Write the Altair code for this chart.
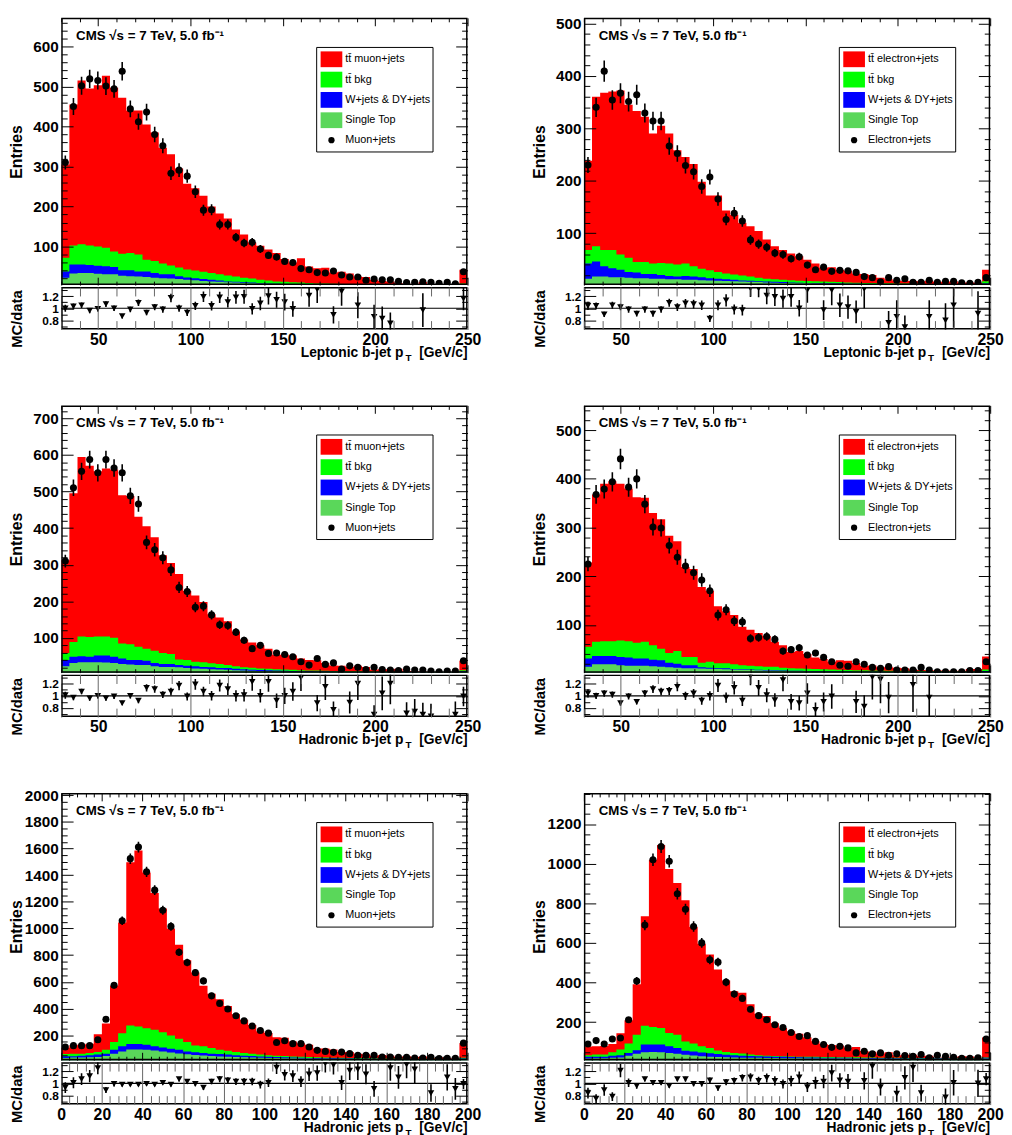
import math
import altair as alt
import pandas as pd

# ---------------- data ----------------
# Panel 1: muon+jets, leptonic b-jet pT, 50 bins 30-250
data1 = [310, 450, 502, 519, 515, 501, 494, 538, 444, 412, 436, 380, 352, 283, 291, 276, 237, 191, 192, 155,
         155, 123, 109, 111, 94, 78, 74, 63, 60, 45, 42, 35, 34, 39, 29, 24, 24, 16, 19, 17,
         17, 13, 10, 11, 12, 11, 8, 11, 7, 37]
ratio1 = [1.0, 1.03, 1.05, 0.96, 0.99, 1.07, 1.0, 0.87, 0.98, 1.09, 0.93, 1.02, 0.98, 1.17, 1.0, 0.93, 1.04, 1.19, 1.04, 1.18,
          1.10, 1.18, 1.19, 0.99, 1.08, 1.2, 1.14, 1.10, 0.99, None, 1.21, 1.31, None, 0.89, 1.28, None, 1.05, None, 0.86, 0.83,
          0.75, None, None, None, 0.97, None, None, None, None, 1.16]
total1 = [305, 455, 515, 495, 503, 527, 497, 472, 440, 440, 405, 385, 347, 331, 295, 257, 246, 227, 200, 183,
          170, 143, 130, 110, 102, 93, 84, 69, 60, 71, 50, 46, 47, 35, 37, 33, 25, 24, 17, 14,
          13, 9, 6, 7, 11.6, 6, 5, 6, 4.5, 42]
green1 = [72, 103, 106, 103, 100, 97, 88, 82, 84, 80, 67, 64, 58, 53, 48, 43, 40, 37, 34, 31,
          28, 25, 22, 20, 17, 15, 13, 12, 11, 10, 9, 8, 7.5, 7, 6.5, 6, 5.5, 5, 5, 4.8,
          4.6, 4.5, 4.4, 4.3, 4.2, 4.2, 4.1, 4.1, 4.0, 8]
blue1 = [38, 55, 55, 54, 52, 51, 49, 41, 41, 38, 38, 34, 31, 31, 26, 23, 21, 19, 17, 15,
         13, 12, 11, 10, 9, 8, 7, 6.5, 6, 5.5, 5.2, 5, 4.8, 4.6, 4.5, 4.4, 4.3, 4.2, 4.1, 4.1,
         4, 4, 4, 3.9, 3.9, 3.9, 3.9, 3.9, 3.9, 6]
st1 = [22, 33, 34, 34, 32, 31, 31, 27, 26, 25, 24, 22, 21, 20, 19, 17, 16, 14, 13, 12,
       11, 10, 9, 8.5, 8, 7, 6.5, 6, 5.5, 5, 4.8, 4.6, 4.5, 4.4, 4.3, 4.2, 4.1, 4, 4, 3.9,
       3.9, 3.9, 3.9, 3.9, 3.8, 3.8, 3.8, 3.8, 3.8, 5]

# Panel 2: electron+jets, leptonic b-jet pT
data2 = [230, 340, 409, 354, 367, 351, 364, 329, 314, 314, 266, 252, 229, 217, 189, 207, 165, 126, 138, 123,
         87, 79, 73, 62, 59, 51, 55, 39, 30, 35, 27, 29, 28, 25, 17, 15, 7, 15, 10, 13,
         6, 6, 10, 6, 8, 8, 5, 4, 6, 15]
ratio2 = [1.04, 1.04, 0.9, 1.05, 1.02, 0.98, 0.91, 0.98, 0.91, 0.98, 1.09, 1.02, 1.08, 1.07, 1.05, 0.83, 1.05, 1.13, 0.98, 0.97,
          1.33, 1.33, 1.21, 1.19, 1.16, 1.19, 1.0, 1.3, None, 0.97, 1.3, 1.05, 1.02, 0.94, 1.32, None, None, 0.76, 0.86, 0.69,
          None, None, 0.86, None, 0.8, 1.05, None, None, 0.91, None]
total2 = [238, 360, 368, 370, 372, 345, 333, 322, 290, 305, 290, 258, 245, 232, 198, 172, 172, 143, 135, 120,
          113, 104, 88, 75, 68, 61, 56, 49, 42, 34, 35, 30, 28, 23, 22, 20, 15, 12, 9, 9,
          8.5, 8, 9, 7, 7, 8, 6, 6, 5.5, 30]
green2 = [68, 75, 68, 68, 59, 53, 45, 45, 42, 43, 42, 40, 42, 37, 32, 29, 26, 23, 21, 19,
          17, 15, 13, 12, 11, 10, 9, 8.5, 8, 7.5, 7, 6.5, 6, 5.5, 5, 5, 4.5, 4.5, 4, 4,
          3.5, 3.5, 3, 3, 3, 3, 3, 3, 3, 8]
blue2 = [42, 46, 37, 33, 30, 26, 25, 22, 22, 20, 18, 17, 18, 17, 16, 14, 12.7, 12, 11, 9.5,
         9, 8, 7.5, 7, 6.5, 6, 5.5, 5, 4.7, 4.4, 4.1, 3.8, 3.5, 3.3, 3.1, 2.9, 2.7, 2.5, 2.4, 2.3,
         2.2, 2.1, 2, 2, 2, 2, 2, 2, 2, 4]
st2 = [13, 17, 17, 16, 16, 15, 14, 14, 13, 13, 12, 12, 11, 11, 10, 9.5, 9, 8.5, 8, 7.5,
       7, 6.5, 6, 5.5, 5, 4.7, 4.4, 4.1, 3.8, 3.5, 3.3, 3.1, 2.9, 2.7, 2.5, 2.3, 2.2, 2.1, 2, 2,
       1.9, 1.8, 1.8, 1.7, 1.7, 1.6, 1.6, 1.5, 1.5, 3]

# Panel 3: muon+jets, hadronic b-jet pT
data3 = [310, 510, 555, 587, 551, 587, 564, 551, 488, 466, 361, 341, 319, 286, 238, 227, 184, 187, 163, 136,
         134, 116, 94, 71, 80, 58, 59, 55, 49, 35, 26, 44, 28, 32, 15, 24, 20, 14, 20, 14,
         12.6, 10.8, 15, 12.6, 12.6, 10, 8, 10, 10, 38]
ratio3 = [1.01, 0.97, 1.07, 0.96, 1.0, 0.96, 0.99, 0.88, 1.0, 0.92, 1.13, 1.11, 1.02, 1.07, 1.17, 0.99, 1.19, 1.07, 1.0, 1.17,
          1.11, 1.0, 1.01, 1.23, 1.0, 1.23, 0.92, 1.0, 1.07, 1.3, None, 0.88, 1.15, 0.77, None, 0.89, 1.2, None, 0.69, 1.04,
          1.2, None, 0.71, 0.74, 0.69, 0.66, None, None, 0.69, 0.99]
total3 = [312, 495, 594, 570, 555, 563, 560, 490, 488, 431, 405, 375, 326, 305, 275, 228, 216, 198, 165, 156,
          146, 118, 96, 88, 80, 71, 54, 55, 52, 44, 40, 39, 32, 25, 24, 21, 24, 21, 14, 14.5,
          15, 16, 10.6, 9.3, 8.7, 6.6, 6.5, 6, 6.9, 37.6]
green3 = [59, 89, 104, 103, 104, 104, 101, 85, 83, 76, 71, 65, 59, 56, 41, 40, 35, 34, 31, 29,
          26, 23, 20, 19, 17, 16, 15, 14, 13, 12, 11.5, 11, 10.5, 10, 9.5, 9, 9, 8.5, 8.5, 8,
          8, 8, 7.5, 7.5, 7, 6.2, 6.3, 5.9, 6.5, 12]
blue3 = [40, 49, 50, 49, 52, 52, 49, 44, 40, 40, 38, 32, 29, 29, 26, 24, 23, 21, 20, 18,
         18, 16, 14.5, 13, 12.5, 12, 11, 10.5, 10, 9.5, 9, 8.5, 8.5, 8, 8, 7.5, 7.5, 7, 7, 7,
         6.8, 6.6, 6.5, 6.4, 6.3, 6, 6, 5.8, 6, 9]
st3 = [23, 32, 34, 34, 34, 33, 32, 29, 28, 26, 26, 23, 21, 21, 20, 18, 17, 16, 15, 14,
       13, 12, 11, 10.5, 10, 9.5, 9, 8.5, 8, 8, 7.5, 7.5, 7, 7, 7, 6.8, 6.6, 6.5, 6.4, 6.3,
       6.2, 6.1, 6, 6, 6, 5.9, 5.8, 5.7, 5.7, 7]

# Panel 4: electron+jets, hadronic b-jet pT
data4 = [225, 368, 379, 394, 441, 383, 400, 348, 301, 299, 263, 239, 221, 207, 192, 170, 120, 131, 108, 106,
         72, 74, 76, 70, 46, 49, 53, 38, 42, 33, 24, 17, 15, 24, 19, 12.5, 10.5, 14, 7, 7,
         7, 12.5, 7, 3.7, 3.7, 3.7, 3.7, 5.8, 5.8, 24]
ratio4 = [1.04, 1.0, 1.04, 1.02, 0.88, 0.99, 0.9, 1.04, 1.11, 1.07, 1.08, 1.15, 1.0, 1.04, 0.92, 1.0, 1.17, 0.97, 1.13, 0.92,
          1.33, 1.13, 1.01, 0.93, 1.26, 0.9, 0.88, 1.04, 0.77, 0.9, 0.99, None, None, 0.9, 0.82, 1.31, 1.27, 0.97, None, None,
          1.18, None, 0.97, None, None, None, None, None, None, None]
total4 = [228, 368, 390, 395, 390, 380, 362, 361, 330, 317, 283, 272, 219, 215, 178, 170, 138, 128, 120, 96,
          90, 83, 77, 65, 58, 44, 46, 40, 33, 30, 24, 27, 26, 21.6, 16, 16.4, 13, 13.6, 12, 11,
          8.3, 7, 6.8, 6, 6, 5.5, 5.5, 9, 9, 35]
green4 = [55, 65, 66, 66, 68, 66, 63, 65, 58, 51, 42, 46, 34, 34, 22, 24, 21, 21, 19, 17,
          16, 15, 14, 14, 12, 11, 10, 9.5, 9, 8.5, 8, 7.5, 7, 6.8, 6.5, 6.2, 6, 5.8, 5.6, 5.4,
          5.2, 5, 4.8, 4.6, 4.5, 4.4, 4.3, 4.2, 4.1, 8]
blue4 = [31, 36, 36, 36, 34, 33, 31, 31, 28, 27, 22, 20, 17, 17, 13, 12, 10.5, 10.5, 9, 8.5,
         8, 7.5, 7, 6.5, 6, 5.7, 5.4, 5.1, 4.8, 4.6, 4.4, 4.2, 4, 3.8, 3.6, 3.5, 3.4, 3.3, 3.2, 3.1,
         3, 3, 2.9, 2.9, 2.8, 2.8, 2.7, 2.7, 2.6, 5]
st4 = [14, 19, 19, 19, 17, 16, 16, 16, 15, 14, 13, 12, 11, 10.5, 10, 9.5, 9, 8.5, 8, 7.5,
       7, 6.5, 6, 5.5, 5, 4.7, 4.4, 4.1, 3.8, 3.6, 3.4, 3.2, 3, 2.9, 2.8, 2.7, 2.6, 2.5, 2.4, 2.3,
       2.2, 2.2, 2.1, 2.1, 2, 2, 2, 2, 2, 3]

# Panel 5: muon+jets, hadronic jets pT, 50 bins 0-200
data5 = [111, 121, 121, 121, 165, 319, 574, 1058, 1524, 1611, 1425, 1288, 1137, 1016, 822, 745, 669, 607, 495, 438,
         396, 346, 307, 269, 235, 215, 145, 158, 136, 136, 111, 86, 78, 71, 73, 61, 49, 49, 49, 36,
         36, 34, 34, 29, 29, 34, 24, 26, 26, 140]
ratio5 = [0.93, 1.01, 1.07, 1.12, 1.25, 0.89, 0.99, 0.98, 0.98, 0.98, 0.99, 0.98, 1.01, 0.98, 1.07, 1.03, 0.99, 0.93, 1.03, 1.07,
          1.05, 1.03, 1.03, 1.03, 0.98, 1.01, 1.26, 1.14, 1.12, 1.03, 1.15, 1.17, 1.33, 1.3, 1.01, 1.21, 1.23, 1.15, 0.91, None,
          1.25, 1.1, 1.31, 1.23, None, 0.84, None, 1.1, 0.91, 0.99]
total5 = [105, 124, 129, 136, 206, 288, 570, 1045, 1497, 1585, 1420, 1266, 1150, 1000, 879, 762, 670, 570, 510, 469,
          418, 356, 316, 277, 230, 217, 185, 180, 152, 140, 128, 100, 100, 92, 74, 74, 60, 56, 45, 52,
          45, 37, 44.5, 36, 40, 28.6, 35, 29, 24, 140]
green5 = [59, 61, 61, 66, 73, 91, 148, 215, 272, 264, 252, 240, 222, 198, 173, 148, 123, 116, 103, 91,
          83, 73, 66, 60, 55, 50, 46, 43, 40, 38, 36, 34, 32, 31, 30, 29, 28, 27, 26, 25,
          24, 24, 23, 23, 22, 22, 21, 21, 20, 30]
blue5 = [41, 41, 46, 49, 54, 61, 91, 116, 133, 133, 128, 116, 108, 98, 91, 78, 71, 66, 61, 59,
         54, 49, 46, 43, 40, 38, 36, 34, 32, 30, 29, 28, 27, 26, 25, 24, 23, 22, 22, 21,
         21, 20, 20, 20, 19, 19, 19, 18, 18, 24]
st5 = [29, 33, 33, 34, 36, 44, 60, 78, 93, 93, 90, 84, 78, 70, 63, 56, 51, 47, 43, 40,
       38, 36, 34, 32, 30, 29, 28, 27, 26, 25, 24, 23, 22, 21, 21, 20, 20, 19, 19, 18,
       18, 17, 17, 17, 16, 16, 16, 15, 15, 18]

# Panel 6: electron+jets, hadronic jets pT
data6 = [90, 107, 90, 115, 120, 212, 408, 690, 1020, 1087, 1012, 848, 770, 683, 600, 515, 503, 402, 342, 320,
         265, 233, 212, 187, 173, 148, 128, 132, 103, 87, 73, 78, 70, 45, 53, 40, 45, 33, 40, 32,
         28, 37, 20, 33, 28, 23, 18, 18, 20, 115]
ratio6 = [0.84, 0.75, 0.89, 0.78, 1.21, 1.01, 0.96, 1.07, 1.01, 1.01, 0.96, 1.07, 1.07, 0.99, 0.99, 1.05, 0.92, 1.02, 1.04, 1.09,
          1.10, 1.04, 1.09, 1.04, 0.99, 1.04, 1.10, 0.94, 1.01, 1.03, 1.17, 1.05, 1.03, None, 1.04, 1.28, 0.94, None, 0.83, 1.09,
          1.26, 0.84, None, None, 0.77, 1.01, None, None, 1.0, 1.07]
total6 = [77, 79, 80, 90, 144, 210, 392, 735, 1020, 1094, 973, 903, 815, 680, 596, 541, 466, 410, 356, 348,
          290, 242, 231, 194, 171, 154, 141, 124, 104, 90, 85, 82, 72, 75, 55, 51, 42, 48, 33, 35,
          35, 31, 30, 20, 21.6, 23, 28, 27, 20, 123]
green6 = [33, 37, 37, 48, 62, 92, 137, 182, 175, 170, 145, 137, 103, 92, 78, 70, 57, 50, 45, 42,
          37, 33, 31, 29, 28, 27, 26, 25.5, 25, 24.5, 24, 23.5, 23, 22.5, 22, 21.5, 21, 20.5, 20, 20,
          19.5, 19, 19, 18.5, 18.5, 18, 18, 18, 17.5, 22]
blue6 = [25, 25, 25, 30, 33, 45, 58, 87, 87, 87, 78, 70, 56, 52, 47, 43, 39, 36, 33, 31,
         29, 28, 27, 26, 25, 24, 23, 22, 22, 21, 21, 20, 20, 19, 19, 19, 18, 18, 18, 17,
         17, 17, 16, 16, 16, 15, 15, 15, 15, 20]
st6 = [17, 18, 18, 20, 22, 30, 40, 48, 50, 48, 44, 40, 35, 32, 28, 26, 24, 23, 22, 21,
       20, 20, 19, 19, 18, 18, 18, 17, 17, 17, 17, 16, 16, 16, 16, 15, 15, 15, 15, 14,
       14, 14, 14, 14, 13, 13, 13, 13, 13, 16]

LEGEND_MU = ["tt\u0304 muon+jets", "tt\u0304 bkg", "W+jets & DY+jets", "Single Top", "Muon+jets"]
LEGEND_EL = ["tt\u0304 electron+jets", "tt\u0304 bkg", "W+jets & DY+jets", "Single Top", "Electron+jets"]
CMS_LABEL = "CMS \u221as = 7 TeV, 5.0 fb\u207b\u00b9"
Y_TITLE = "Entries"
R_TITLE = "MC/data"

PANELS = [
    dict(lo=30, hi=250, xmaj=50, xmin=10, ylo=3.8, yhi=671.5, ymaj=100, ymin=20, leg=LEGEND_MU,
         xt="Leptonic b-jet p", d=data1, r=ratio1, t=total1, g=green1, b=blue1, s=st1),
    dict(lo=30, hi=250, xmaj=50, xmin=10, ylo=0.8, yhi=510.7, ymaj=100, ymin=20, leg=LEGEND_EL,
         xt="Leptonic b-jet p", d=data2, r=ratio2, t=total2, g=green2, b=blue2, s=st2),
    dict(lo=30, hi=250, xmaj=50, xmin=10, ylo=5.4, yhi=735, ymaj=100, ymin=20, leg=LEGEND_MU,
         xt="Hadronic b-jet p", d=data3, r=ratio3, t=total3, g=green3, b=blue3, s=st3),
    dict(lo=30, hi=250, xmaj=50, xmin=10, ylo=1.7, yhi=551, ymaj=100, ymin=20, leg=LEGEND_EL,
         xt="Hadronic b-jet p", d=data4, r=ratio4, t=total4, g=green4, b=blue4, s=st4),
    dict(lo=0, hi=200, xmaj=20, xmin=4, ylo=12, yhi=2017, ymaj=200, ymin=50, leg=LEGEND_MU,
         xt="Hadronic jets p", d=data5, r=ratio5, t=total5, g=green5, b=blue5, s=st5),
    dict(lo=0, hi=200, xmaj=20, xmin=4, ylo=8, yhi=1357, ymaj=200, ymin=50, leg=LEGEND_EL,
         xt="Hadronic jets p", d=data6, r=ratio6, t=total6, g=green6, b=blue6, s=st6),
]

# ---------------- style ----------------
W, HM, HR = 412, 271, 43
NB = 50
C_TT, C_BKG, C_WJ, C_ST = "#ff0000", "#00ff00", "#0000ff", "#5ad75a"
FONT = "Liberation Sans"
ONE = pd.DataFrame({"one": [1.0]})


def ax(orient, values, L, color="black", **kw):
    """Inward-pointing ROOT-style ticks: axis moved inside by its own tick length."""
    args = dict(orient=orient, values=values, tickSize=L, offset=-L, tickColor=color, tickWidth=1,
                domain=False, grid=False, minExtent=0, zindex=1, labelFlush=False,
                labelOverlap=False, labels=False)
    args.update(kw)
    return alt.Axis(**args)


def frame(h):
    return alt.Chart(ONE).mark_rect(filled=False, color="black", strokeWidth=1.5).encode(
        x=alt.value(0.75), x2=alt.value(W - 0.75), y=alt.value(0.75), y2=alt.value(h - 0.75))


def text_at(txt, x, y, size, weight="normal", align="left"):
    return alt.Chart(ONE).mark_text(text=txt, align=align, baseline="middle", font=FONT,
                                    fontSize=size, fontWeight=weight, color="black").encode(
        x=alt.value(x), y=alt.value(y))


def build_panel(P):
    bw = (P["hi"] - P["lo"]) / NB
    edges = [P["lo"] + i * bw for i in range(NB + 1)]
    area = pd.DataFrame({
        "x": edges,
        "total": P["t"] + [P["t"][-1]],
        "green": P["g"] + [P["g"][-1]],
        "blue": P["b"] + [P["b"][-1]],
        "st": P["s"] + [P["s"][-1]],
        "zero": [0.0] * (NB + 1),
    })
    centers = [P["lo"] + (i + 0.5) * bw for i in range(NB)]
    d = P["d"]
    r = P["r"]
    pts = pd.DataFrame({
        "c": centers,
        "d": d,
        "lo": [v - math.sqrt(v) for v in d],
        "hi": [v + math.sqrt(v) for v in d],
        "r": [v if v is not None else float("nan") for v in r],
        "rlo": [(v - v / math.sqrt(n)) if v is not None else float("nan") for v, n in zip(r, d)],
        "rhi": [(v + v / math.sqrt(n)) if v is not None else float("nan") for v, n in zip(r, d)],
    })

    xs = alt.Scale(domain=[P["lo"], P["hi"]], nice=False, zero=False)
    ys = alt.Scale(domain=[P["ylo"], P["yhi"]], nice=False, zero=False)
    rs = alt.Scale(domain=[0.65, 1.35], nice=False, zero=False)

    xall = list(range(P["lo"], P["hi"] + 1, P["xmin"]))
    xmaj = [v for v in xall if v % P["xmaj"] == 0]
    xmin = [v for v in xall if v % P["xmaj"] != 0]
    yall = [v for v in range(P["ymin"], int(P["yhi"]) + 1, P["ymin"]) if v >= P["ylo"]]
    ymaj = [v for v in yall if v % P["ymaj"] == 0]
    ymin = [v for v in yall if v % P["ymaj"] != 0]
    rmaj = [0.8, 1.0, 1.2]
    rmin = [0.7, 0.9, 1.1, 1.3]

    # ---------- main pad ----------
    base = alt.Chart(area)

    def area_layer(field, color, xaxis, yaxis, title=None):
        return base.mark_area(interpolate="step-after", color=color, clip=True, orient="vertical").encode(
            x=alt.X("x:Q", scale=xs, title=None, axis=xaxis),
            y=alt.Y(f"{field}:Q", scale=ys, title=title, axis=yaxis),
            y2="zero:Q")

    red = area_layer("total", C_TT, ax("bottom", xmaj, 8),
                     ax("left", ymaj, 12, labels=True, labelExpr="format(datum.value, 'd')",
                        labelPadding=3, titleX=-57, titleY=HM / 2, titleAngle=270,
                        titleAlign="center", titleBaseline="middle"), title=Y_TITLE)
    green = area_layer("green", C_BKG, ax("bottom", xmin, 4), ax("left", ymin, 6))
    blue = area_layer("blue", C_WJ, ax("top", xmaj, 8), ax("right", ymaj, 12))
    stop = area_layer("st", C_ST, ax("top", xmin, 4), ax("right", ymin, 6))

    err = alt.Chart(pts).mark_rule(color="black", strokeWidth=1.6, clip=True).encode(
        x=alt.X("c:Q", scale=xs, axis=None),
        y=alt.Y("lo:Q", scale=ys, axis=None), y2="hi:Q")
    dots = alt.Chart(pts).mark_circle(color="black", size=52, opacity=1, clip=True).encode(
        x=alt.X("c:Q", scale=xs, axis=None),
        y=alt.Y("d:Q", scale=ys, axis=None))
    spacer = alt.Chart(ONE).mark_rule(opacity=0).encode(
        x=alt.value(0), y=alt.value(-6), y2=alt.value(0))
    cms = text_at(CMS_LABEL, 15, 18, 13.5, weight="bold")

    leg = [alt.Chart(ONE).mark_rect(fill="white", stroke="black", strokeWidth=1).encode(
        x=alt.value(259), x2=alt.value(377), y=alt.value(30), y2=alt.value(136))]
    cols = [C_TT, C_BKG, C_WJ, C_ST]
    for k in range(4):
        y0 = 34 + 20.6 * k
        leg.append(alt.Chart(ONE).mark_rect(color=cols[k]).encode(
            x=alt.value(263), x2=alt.value(285), y=alt.value(y0), y2=alt.value(y0 + 16)))
        leg.append(text_at(P["leg"][k], 288, y0 + 8, 11))
    leg.append(alt.Chart(ONE).mark_circle(color="black", size=40, opacity=1).encode(
        x=alt.value(274), y=alt.value(124)))
    leg.append(text_at(P["leg"][4], 288, 124, 11))

    main = alt.layer(red, green, blue, stop, err, dots, spacer, cms, *leg, frame(HM)).resolve_axis(
        x="independent", y="independent").properties(width=W, height=HM)

    # ---------- ratio pad ----------
    unity = alt.Chart(ONE).mark_rule(color="black", strokeWidth=1.2).encode(
        x=alt.value(0), x2=alt.value(W), y=alt.Y("one:Q", scale=rs, axis=None))
    rerr = alt.Chart(pts).mark_rule(color="black", strokeWidth=1.6, clip=True).encode(
        x=alt.X("c:Q", scale=xs, title=None, axis=ax("bottom", xmin, 9, color="#666666")),
        y=alt.Y("rlo:Q", scale=rs, title=None, axis=ax("left", rmin, 6)),
        y2="rhi:Q")
    ghost1 = alt.Chart(pts).mark_point(opacity=0, clip=True).encode(
        x=alt.X("c:Q", scale=xs, title=None, axis=ax("top", xmin, 9, color="#666666")),
        y=alt.Y("r:Q", scale=rs, title=None, axis=ax("right", rmaj, 12)))
    ghost2 = alt.Chart(pts).mark_point(opacity=0, clip=True).encode(
        x=alt.X("c:Q", scale=xs, axis=None),
        y=alt.Y("r:Q", scale=rs, title=None, axis=ax("right", rmin, 6)))
    rpts = alt.Chart(pts).mark_point(shape="triangle-down", filled=True, size=45, color="black",
                                     opacity=1, clip=True).encode(
        x=alt.X("c:Q", scale=xs, title=None,
                axis=ax("bottom", xmaj, HR, color="#666666", labels=True,
                        labelExpr="format(datum.value, 'd')", labelPadding=2, labelFontSize=16)),
        y=alt.Y("r:Q", scale=rs, title=R_TITLE,
                axis=ax("left", rmaj, 12, labels=True,
                        labelExpr="datum.value === 1 ? '1' : format(datum.value, '.1f')",
                        labelPadding=3, labelFontSize=12, titleFontSize=15,
                        titleX=-57, titleY=32, titleAngle=270,
                        titleAlign="center", titleBaseline="middle")))
    t1 = text_at(P["xt"], 347, HR + 23.5, 14, weight="bold", align="right")
    t2 = text_at("T", 349, HR + 28.5, 10, weight="bold")
    t3 = text_at("[GeV/c]", W, HR + 23.5, 14, weight="bold", align="right")

    ratio = alt.layer(unity, rerr, ghost1, ghost2, rpts, t1, t2, t3, frame(HR)).resolve_axis(
        x="independent", y="independent").properties(width=W, height=HR)

    return alt.vconcat(main, ratio, spacing=0)


rows = [alt.hconcat(build_panel(PANELS[2 * i]), build_panel(PANELS[2 * i + 1]), spacing=51)
        for i in range(3)]

chart = alt.vconcat(*rows, spacing=37).properties(
    padding={"left": 1, "top": -4, "right": 0, "bottom": 0}
).configure_view(strokeWidth=0).configure_axis(
    labelFont=FONT, labelFontSize=15.5, labelFontWeight="bold", labelColor="black",
    titleFont=FONT, titleFontSize=16, titleFontWeight="bold", titleColor="black")

chart.save("out.html", embed_options={"renderer": "svg", "actions": False})
